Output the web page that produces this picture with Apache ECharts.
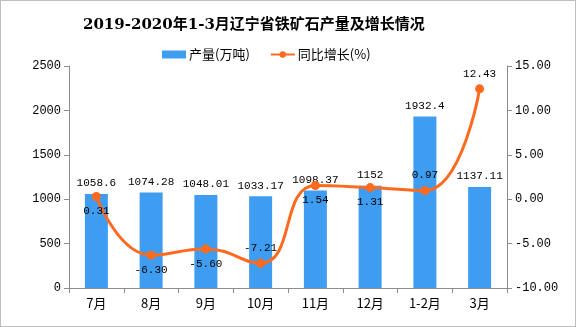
<!DOCTYPE html>
<html>
<head>
<meta charset="utf-8">
<script src="https://cdn.jsdelivr.net/npm/echarts@6/dist/echarts.min.js"></script>
<style>
html,body{margin:0;padding:0;background:#fff;}
#chart{width:576px;height:327px;box-sizing:border-box;border:1px solid #bdbdbd;}
</style>
</head>
<body>
<div id="chart"></div>
<script>
// Monthly iron ore output in Liaoning and its year-on-year change
const categories = ['7月', '8月', '9月', '10月', '11月', '12月', '1-2月', '3月'];
const output = [1058.6, 1074.28, 1048.01, 1033.17, 1098.37, 1152, 1932.4, 1137.11];
const growth = [0.31, -6.30, -5.60, -7.21, 1.54, 1.31, 0.97, 12.43];
const growthLabelPos = ['bottom', 'bottom', 'bottom', 'top', 'bottom', 'bottom', 'top', 'top'];
const leftTicks = [0, 2500, 500];
const rightTicks = [-10, 15, 5];

const FONT = '"Noto Sans CJK SC", sans-serif';
const NUM_FONT = '"Liberation Mono", "Noto Sans CJK SC", monospace';
const chart = echarts.init(document.getElementById('chart'));
chart.setOption({
  animation: false,
  title: {
    text: '2019-2020年1-3月辽宁省铁矿石产量及增长情况',
    left: 77, top: 12,
    textStyle: { fontSize: 15, fontWeight: 'bold', color: '#000', fontFamily: '"DejaVu Serif", "Noto Sans CJK SC", serif' }
  },
  legend: {
    top: 42, left: 156, itemGap: 20, itemWidth: 24, itemHeight: 8,
    textStyle: { fontSize: 13, color: '#000', fontFamily: FONT, padding: [0, 0, 0, -2] },
    data: [
      { name: '产量(万吨)', icon: 'rect' },
      { name: '同比增长(%)' }
    ]
  },
  grid: { left: 68, right: 68, top: 65, bottom: 38 },
  xAxis: {
    type: 'category', data: categories,
    axisLine: { lineStyle: { color: '#8c8c8c' } },
    axisTick: { show: true, alignWithLabel: false, lineStyle: { color: '#8c8c8c' } },
    axisLabel: { fontSize: 13, color: '#000', fontFamily: FONT, margin: 9 }
  },
  yAxis: [
    {
      type: 'value', min: leftTicks[0], max: leftTicks[1], interval: leftTicks[2],
      axisLine: { show: true, lineStyle: { color: '#8c8c8c' } },
      axisTick: { show: true, lineStyle: { color: '#8c8c8c' } },
      splitLine: { show: false },
      axisLabel: { fontSize: 12, color: '#000', fontFamily: NUM_FONT, formatter: v => String(v) }
    },
    {
      type: 'value', min: rightTicks[0], max: rightTicks[1], interval: rightTicks[2],
      axisLine: { show: true, lineStyle: { color: '#8c8c8c' } },
      axisTick: { show: true, lineStyle: { color: '#8c8c8c' } },
      splitLine: { show: false },
      axisLabel: { fontSize: 12, color: '#000', fontFamily: NUM_FONT, formatter: v => v.toFixed(2) }
    }
  ],
  series: [
    {
      name: '产量(万吨)', type: 'bar', data: output, barWidth: 23,
      itemStyle: { color: '#3e9df0' },
      label: { show: true, position: 'top', fontSize: 11, color: '#000', fontFamily: NUM_FONT }
    },
    {
      name: '同比增长(%)', type: 'line', yAxisIndex: 1, smooth: 0.5,
      data: growth.map((v, i) => ({
        value: v,
        label: { position: growthLabelPos[i] }
      })),
      symbol: 'circle', symbolSize: 9,
      lineStyle: { color: '#ff6a1f', width: 3 },
      itemStyle: { color: '#ff6a1f' },
      label: { show: true, fontSize: 11, color: '#000', fontFamily: NUM_FONT, formatter: p => p.value.toFixed(2) },
      z: 3
    }
  ]
});
</script>
</body>
</html>
